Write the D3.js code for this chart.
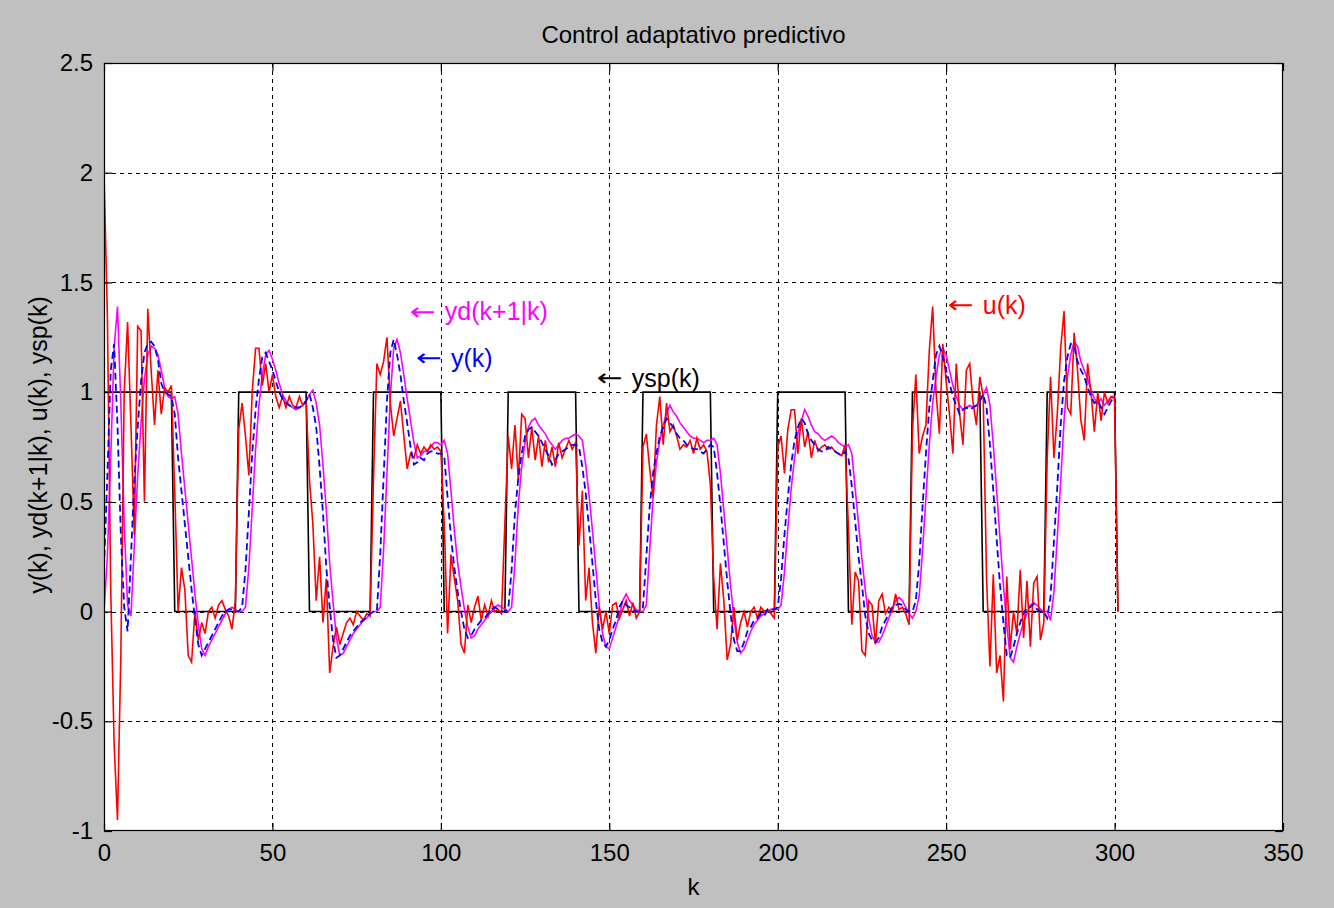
<!DOCTYPE html>
<html>
<head>
<meta charset="utf-8">
<script src="https://cdn.jsdelivr.net/npm/d3@7/dist/d3.min.js"></script>
<style>
  body { margin: 0; background: #c0c0c0; }
  svg text { fill: #000; }
</style>
</head>
<body>
<div id="chart"></div>
<script>
// --- data: one value per sample, k = 0, 1, 2, ...
const yOut = [
  0.20, 0.62, 1.10, 1.22, 0.85, 0.35, 0.02, -0.09, 0.25, 0.60,
  0.84, 1.05, 1.18, 1.22, 1.23, 1.21, 1.15, 1.04, 1.00, 0.99,
  0.98, 0.90, 0.70, 0.55, 0.40, 0.25, 0.10, -0.03, -0.15, -0.20,
  -0.17, -0.14, -0.11, -0.08, -0.05, -0.02, 0.00, 0.01, 0.01, 0.00,
  0.00, 0.02, 0.19, 0.45, 0.72, 0.92, 1.06, 1.16, 1.18, 1.14,
  1.10, 1.05, 1.00, 0.97, 0.95, 0.94, 0.93, 0.93, 0.93, 0.94,
  0.96, 0.99, 0.93, 0.84, 0.66, 0.45, 0.20, 0.02, -0.13, -0.21,
  -0.20, -0.17, -0.14, -0.11, -0.09, -0.07, -0.05, -0.04, -0.02, -0.01,
  0.00, 0.00, 0.26, 0.61, 0.96, 1.18, 1.24, 1.17, 1.08, 0.96,
  0.86, 0.75, 0.67, 0.68, 0.70, 0.69, 0.72, 0.73, 0.73, 0.72,
  0.72, 0.71, 0.52, 0.34, 0.20, 0.09, 0.00, -0.08, -0.12, -0.11,
  -0.08, -0.06, -0.04, -0.03, -0.01, 0.01, 0.02, 0.01, 0.00, 0.00,
  0.01, 0.19, 0.45, 0.61, 0.72, 0.80, 0.83, 0.84, 0.82, 0.80,
  0.77, 0.74, 0.71, 0.67, 0.69, 0.72, 0.73, 0.74, 0.75, 0.76,
  0.76, 0.75, 0.66, 0.54, 0.38, 0.22, 0.05, -0.08, -0.14, -0.16,
  -0.13, -0.08, -0.04, 0.02, 0.05, 0.03, 0.02, 0.01, 0.00, 0.00,
  0.02, 0.25, 0.48, 0.63, 0.72, 0.80, 0.84, 0.88, 0.86, 0.84,
  0.81, 0.79, 0.78, 0.76, 0.75, 0.74, 0.74, 0.73, 0.72, 0.74,
  0.76, 0.75, 0.63, 0.48, 0.31, 0.14, -0.01, -0.13, -0.18, -0.18,
  -0.14, -0.09, -0.07, -0.04, -0.03, -0.01, -0.02, 0.01, 0.01, 0.01,
  0.02, 0.15, 0.35, 0.52, 0.67, 0.78, 0.84, 0.88, 0.86, 0.81,
  0.78, 0.76, 0.74, 0.73, 0.73, 0.75, 0.74, 0.73, 0.72, 0.71,
  0.73, 0.70, 0.57, 0.41, 0.25, 0.12, -0.02, -0.10, -0.13, -0.14,
  -0.12, -0.07, -0.04, -0.01, 0.02, 0.03, 0.035, 0.03, 0.01, 0.00,
  0.00, 0.05, 0.22, 0.48, 0.72, 0.93, 1.05, 1.17, 1.21, 1.16,
  1.10, 1.04, 0.98, 0.94, 0.90, 0.92, 0.93, 0.92, 0.93, 0.94,
  0.96, 0.99, 0.93, 0.76, 0.55, 0.33, 0.12, -0.05, -0.20, -0.21,
  -0.16, -0.10, -0.05, -0.01, 0.02, 0.02, 0.035, 0.01, 0.00, 0.00,
  -0.03, 0.07, 0.32, 0.57, 0.85, 1.05, 1.16, 1.22, 1.21, 1.14,
  1.10, 1.07, 1.02, 0.98, 0.95, 0.96, 0.93, 0.90, 0.93, 0.96,
  0.98
];

const yPred = [
  0.00, 0.25, 0.70, 1.20, 1.39, 0.95, 0.40, 0.03, -0.02, 0.30,
  0.62, 0.86, 1.06, 1.17, 1.21, 1.20, 1.17, 1.10, 1.02, 0.98,
  0.97, 0.98, 0.90, 0.72, 0.56, 0.40, 0.24, 0.08, -0.06, -0.17,
  -0.20, -0.16, -0.13, -0.10, -0.07, -0.04, -0.01, 0.01, 0.02, 0.01,
  0.00, 0.00, 0.02, 0.20, 0.47, 0.74, 0.94, 1.08, 1.17, 1.19,
  1.15, 1.10, 1.04, 0.99, 0.96, 0.94, 0.93, 0.92, 0.93, 0.94,
  0.96, 0.99, 1.01, 0.95, 0.85, 0.67, 0.46, 0.22, 0.04, -0.12,
  -0.20, -0.19, -0.16, -0.13, -0.10, -0.08, -0.06, -0.04, -0.03, -0.01,
  0.00, 0.00, 0.02, 0.28, 0.63, 0.98, 1.20, 1.24, 1.18, 1.08,
  0.97, 0.87, 0.77, 0.70, 0.71, 0.73, 0.73, 0.75, 0.77, 0.77,
  0.76, 0.78, 0.72, 0.55, 0.37, 0.22, 0.11, 0.01, -0.07, -0.12,
  -0.11, -0.08, -0.06, -0.04, -0.02, 0.00, 0.02, 0.03, 0.02, 0.01,
  0.00, 0.02, 0.22, 0.49, 0.66, 0.77, 0.84, 0.87, 0.88, 0.85,
  0.83, 0.81, 0.78, 0.76, 0.74, 0.76, 0.78, 0.79, 0.79, 0.80,
  0.81, 0.80, 0.78, 0.67, 0.53, 0.37, 0.20, 0.03, -0.10, -0.16,
  -0.17, -0.12, -0.07, -0.02, 0.05, 0.08, 0.05, 0.03, 0.01, 0.00,
  0.00, 0.03, 0.28, 0.52, 0.68, 0.78, 0.85, 0.90, 0.94, 0.91,
  0.89, 0.86, 0.84, 0.82, 0.80, 0.79, 0.79, 0.78, 0.77, 0.78,
  0.78, 0.79, 0.76, 0.63, 0.46, 0.29, 0.12, -0.03, -0.14, -0.19,
  -0.17, -0.13, -0.09, -0.06, -0.04, -0.02, -0.01, 0.00, 0.01, 0.01,
  0.01, 0.03, 0.18, 0.38, 0.56, 0.70, 0.81, 0.87, 0.92, 0.89,
  0.85, 0.82, 0.81, 0.79, 0.78, 0.79, 0.80, 0.79, 0.77, 0.76,
  0.75, 0.76, 0.72, 0.56, 0.40, 0.24, 0.10, -0.03, -0.11, -0.14,
  -0.14, -0.11, -0.07, -0.03, 0.01, 0.05, 0.065, 0.05, 0.02, -0.01,
  -0.03, 0.00, 0.07, 0.28, 0.52, 0.76, 0.95, 1.07, 1.17, 1.20,
  1.17, 1.10, 1.03, 0.98, 0.94, 0.92, 0.93, 0.94, 0.93, 0.94,
  0.96, 0.99, 1.02, 0.94, 0.76, 0.55, 0.33, 0.12, -0.06, -0.21,
  -0.23, -0.16, -0.10, -0.05, -0.01, 0.03, 0.04, 0.03, 0.01, 0.00,
  0.00, -0.04, 0.09, 0.34, 0.59, 0.87, 1.07, 1.17, 1.23, 1.21,
  1.14, 1.10, 1.06, 1.01, 0.97, 0.95, 0.97, 0.94, 0.96, 0.98,
  0.98
];

const uCtrl = [
  2.00, 1.35, 0.10, -0.60, -0.95, -0.20, 1.00, 1.32, 0.85, 0.35,
  1.30, 1.28, 0.50, 1.38, 1.10, 0.85, 1.10, 0.90, 1.02, 1.00,
  1.03, 0.55, 0.00, 0.20, 0.10, -0.20, -0.23, 0.00, -0.13, -0.05,
  -0.10, 0.00, 0.02, -0.03, 0.03, 0.05, 0.01, -0.02, -0.08, 0.05,
  0.83, 0.95, 0.80, 0.62, 1.00, 1.20, 1.20, 1.03, 1.13, 1.00,
  1.08, 0.98, 0.93, 0.98, 0.93, 0.98, 0.94, 0.93, 0.98, 0.94,
  0.96, 0.60, 0.40, 0.05, 0.25, -0.05, 0.15, -0.28, -0.16, -0.07,
  -0.15, -0.10, -0.05, -0.03, -0.06, 0.00, -0.02, -0.04, -0.01, -0.02,
  0.60, 1.13, 1.08, 1.14, 1.25, 0.95, 0.80, 0.88, 0.96, 0.80,
  0.65, 0.72, 0.70, 0.76, 0.72, 0.75, 0.73, 0.76, 0.74, 0.75,
  0.73, 0.40, -0.10, 0.26, 0.15, 0.05, -0.15, -0.19, 0.03, -0.05,
  0.02, 0.07, -0.04, 0.03, -0.02, 0.05, 0.00, 0.01, -0.01, 0.40,
  0.80, 0.65, 0.85, 0.60, 0.90, 0.88, 0.70, 0.84, 0.69, 0.80,
  0.66, 0.78, 0.68, 0.75, 0.66, 0.77, 0.70, 0.74, 0.78, 0.74,
  0.77, 0.30, 0.55, 0.05, 0.20, -0.05, -0.19, 0.02, -0.08, 0.00,
  -0.10, 0.03, 0.04, -0.03, 0.01, 0.05, -0.02, 0.04, -0.03, 0.00,
  0.75, 0.81, 0.65, 0.52, 0.85, 0.98, 0.76, 0.95, 0.82, 0.85,
  0.80, 0.74, 0.76, 0.75, 0.78, 0.72, 0.79, 0.74, 0.76, 0.73,
  0.58, 0.15, -0.08, 0.22, 0.05, -0.22, -0.15, 0.02, -0.13, -0.05,
  0.00, -0.07, 0.00, 0.02, -0.03, 0.02, 0.00, 0.01, -0.01, -0.03,
  0.75, 0.80, 0.63, 0.83, 0.92, 0.92, 0.72, 0.88, 0.75, 0.82,
  0.70, 0.78, 0.73, 0.75, 0.76, 0.74, 0.75, 0.73, 0.72, 0.71,
  0.76, 0.38, -0.06, 0.18, 0.14, -0.18, -0.20, 0.05, 0.03, -0.15,
  0.05, 0.08, -0.01, 0.02, 0.00, 0.08, 0.01, 0.02, -0.01, -0.06,
  0.82, 1.08, 0.72, 0.80, 0.85, 1.19, 1.39, 1.00, 0.81, 1.22,
  1.05, 0.90, 0.72, 1.13, 0.90, 0.76, 1.10, 1.13, 0.95, 0.85,
  1.07, 0.98, 0.15, -0.25, 0.17, -0.28, -0.20, -0.41, 0.16, -0.17,
  0.00, -0.10, 0.19, -0.12, 0.14, -0.16, 0.13, 0.16, -0.13, -0.05,
  0.70, 1.07, 0.70, 0.90, 1.20, 1.37, 0.93, 0.90, 1.27, 1.10,
  0.87, 0.78, 1.13, 1.00, 0.82, 1.00, 0.87, 1.00, 0.95, 0.98,
  0.97, 0.00
];

// set point: vertices [k, value] of the square wave
const yspSteps = [
  [0, 1], [20, 1], [21, 0], [39, 0], [40, 1], [60, 1], [61, 0], [79, 0],
  [80, 1], [100, 1], [101, 0], [119, 0], [120, 1], [140, 1], [141, 0], [159, 0],
  [160, 1], [180, 1], [181, 0], [199, 0], [200, 1], [220, 1], [221, 0], [239, 0],
  [240, 1], [260, 1], [261, 0], [279, 0], [280, 1], [300, 1], [301, 0]
];

const xTicks = [0, 50, 100, 150, 200, 250, 300, 350];
const yTicks = [-1, -0.5, 0, 0.5, 1, 1.5, 2, 2.5];
const yTickLabels = ['-1', '-0.5', '0', '0.5', '1', '1.5', '2', '2.5'];

// text labels placed in data coordinates, like MATLAB text(k, v, '\leftarrow ...')
const notes = [
  { text: 'yd(k+1|k)', k: 90.8, v: 1.367, color: '#ff00ff' },
  { text: 'y(k)', k: 92.6, v: 1.153, color: '#0000ff' },
  { text: 'ysp(k)', k: 146.3, v: 1.062, color: '#000000' },
  { text: 'u(k)', k: 250.5, v: 1.395, color: '#ff0000' }
];

// --- layout
const W = 1334, H = 908;
const plot = { left: 104, right: 1283, top: 63, bottom: 831 };
const fontSize = 24;
const sans = 'Arial, "Liberation Sans", Helvetica, sans-serif';

const svg = d3.select('#chart').append('svg')
  .attr('width', W)
  .attr('height', H)
  .style('font-family', sans);

svg.append('rect').attr('width', W).attr('height', H).attr('fill', '#c0c0c0');

const x = d3.scaleLinear().domain([0, 350]).range([plot.left, plot.right]);
const y = d3.scaleLinear().domain([-1, 2.5]).range([plot.bottom, plot.top]);

svg.append('rect')
  .attr('x', plot.left).attr('y', plot.top)
  .attr('width', plot.right - plot.left).attr('height', plot.bottom - plot.top)
  .attr('fill', '#fff');

// --- grid (dotted, MATLAB style)
const grid = svg.append('g').attr('stroke', '#000').attr('stroke-width', 1.2)
  .attr('stroke-dasharray', '4,4').attr('shape-rendering', 'crispEdges');
grid.selectAll('.gx').data(xTicks.slice(1, -1)).enter().append('line')
  .attr('x1', d => Math.round(x(d)) + 0.5).attr('x2', d => Math.round(x(d)) + 0.5)
  .attr('y1', plot.top).attr('y2', plot.bottom);
grid.selectAll('.gy').data(yTicks.slice(1, -1)).enter().append('line')
  .attr('y1', d => Math.round(y(d)) + 0.5).attr('y2', d => Math.round(y(d)) + 0.5)
  .attr('x1', plot.left).attr('x2', plot.right);

// --- curves
svg.append('clipPath').attr('id', 'clip').append('rect')
  .attr('x', plot.left).attr('y', plot.top)
  .attr('width', plot.right - plot.left).attr('height', plot.bottom - plot.top);

const line = d3.line().x((d, i) => x(i)).y(d => y(d));
const stepLine = d3.line().x(d => x(d[0])).y(d => y(d[1]));

const curves = svg.append('g').attr('clip-path', 'url(#clip)').attr('fill', 'none');

curves.append('path').datum(yspSteps).attr('d', stepLine)
  .attr('stroke', '#000').attr('stroke-width', 1.6);
curves.append('path').datum(yPred).attr('d', line)
  .attr('stroke', '#ff00ff').attr('stroke-width', 1.6);
curves.append('path').datum(uCtrl).attr('d', line)
  .attr('stroke', '#ff0000').attr('stroke-width', 1.6);
curves.append('path').datum(yOut).attr('d', line)
  .attr('stroke', '#0000ff').attr('stroke-width', 1.8)
  .attr('stroke-dasharray', '7,4');

// --- axes: box with inward ticks on all sides
const axX = svg.append('g').attr('transform', `translate(0,${plot.bottom})`)
  .call(d3.axisBottom(x).tickValues(xTicks).tickSize(-8).tickPadding(13).tickFormat(d3.format('d')));
const axXTop = svg.append('g').attr('transform', `translate(0,${plot.top})`)
  .call(d3.axisTop(x).tickValues(xTicks).tickSize(-8).tickFormat(''));
const axY = svg.append('g').attr('transform', `translate(${plot.left},0)`)
  .call(d3.axisLeft(y).tickValues(yTicks).tickSize(-8).tickPadding(11)
    .tickFormat((d, i) => yTickLabels[i]));
const axYRight = svg.append('g').attr('transform', `translate(${plot.right},0)`)
  .call(d3.axisRight(y).tickValues(yTicks).tickSize(-8).tickFormat(''));

[axX, axXTop, axY, axYRight].forEach(a => {
  a.select('.domain').remove();
  a.selectAll('line').attr('stroke', '#000').attr('stroke-width', 1.2);
  a.attr('font-family', null);
  a.selectAll('text').attr('font-size', fontSize).style('font-family', sans);
});

svg.append('rect')
  .attr('x', plot.left + 0.5).attr('y', plot.top + 0.5)
  .attr('width', plot.right - plot.left - 1).attr('height', plot.bottom - plot.top - 1)
  .attr('fill', 'none').attr('stroke', '#000').attr('stroke-width', 1.2);

// --- labels
svg.append('text')
  .attr('x', (plot.left + plot.right) / 2).attr('y', 43)
  .attr('text-anchor', 'middle').attr('font-size', fontSize)
  .text('Control adaptativo predictivo');

svg.append('text')
  .attr('x', (plot.left + plot.right) / 2).attr('y', 895)
  .attr('text-anchor', 'middle').attr('font-size', fontSize)
  .text('k');

svg.append('text')
  .attr('transform', `translate(47,${(plot.top + plot.bottom) / 2 - 2}) rotate(-90)`)
  .attr('text-anchor', 'middle').attr('font-size', 25)
  .text('y(k), yd(k+1|k), u(k), ysp(k)');

// MATLAB's \leftarrow is a long thin arrow: stretch the DejaVu glyph sideways
const noteG = svg.selectAll('.note').data(notes).enter().append('g')
  .attr('transform', d => `translate(${x(d.k)},${y(d.v)})`);
noteG.append('text')
  .attr('transform', 'scale(1.3,1)')
  .attr('dy', '0.33em').attr('font-size', 24)
  .style('font-family', '"DejaVu Sans", sans-serif')
  .style('fill', d => d.color)
  .text('\u2190');
noteG.append('text')
  .attr('x', 35).attr('dy', '0.35em').attr('font-size', 25)
  .style('fill', d => d.color)
  .text(d => d.text);
</script>
</body>
</html>
